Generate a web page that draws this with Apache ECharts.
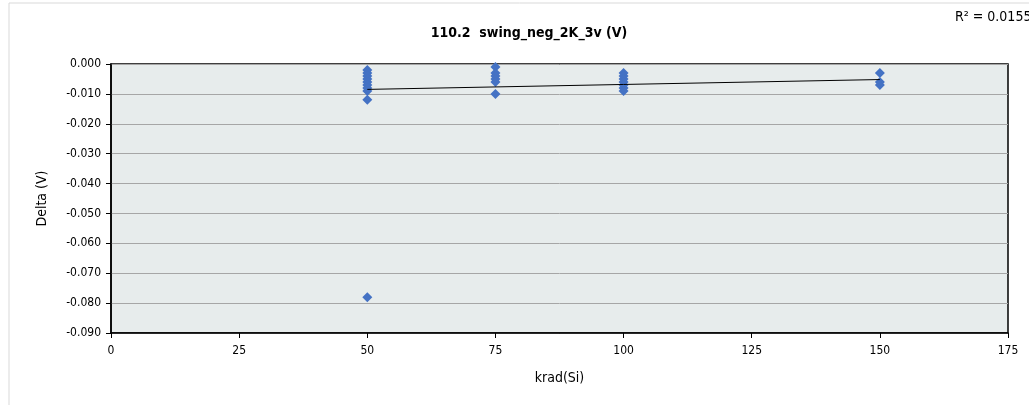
<!DOCTYPE html>
<html><head><meta charset="utf-8">
<script src="https://cdn.jsdelivr.net/npm/echarts@6/dist/echarts.min.js"></script>
<style>html,body{margin:0;padding:0;background:#fff}#c{width:1029px;height:405px}</style>
</head><body><div id="c"></div>
<script>
const titleText = '110.2  swing_neg_2K_3v (V)';
const r2Text = 'R² = 0.0155';
const xName = 'krad(Si)';
const yName = 'Delta (V)';
const dose50 = [-0.002, -0.003, -0.004, -0.005, -0.006, -0.007, -0.008, -0.009, -0.012, -0.078];
const dose75 = [-0.001, -0.003, -0.004, -0.005, -0.006, -0.010];
const dose100 = [-0.003, -0.004, -0.005, -0.006, -0.007, -0.008, -0.009];
const dose150 = [-0.003, -0.006, -0.007];
const doses = [50, 75, 100, 150];
const trendX = [50, 150];
const trendY = [-0.0085, -0.0052];

const groups = [dose50, dose75, dose100, dose150];
const pts = [];
groups.forEach((g, i) => g.forEach(v => pts.push([doses[i], v])));

const chart = echarts.init(document.getElementById('c'));
const font = '"Liberation Sans Narrow", "DejaVu Sans Condensed", "Liberation Sans", sans-serif';
chart.setOption({
  animation: false,
  textStyle: { fontFamily: font },
  title: { text: titleText, left: 524, top: 21, textAlign: 'center',
    textStyle: { fontSize: 14, fontWeight: 'bold', color: '#000', fontFamily: font } },
  graphic: [
    { type: 'rect', shape: { x: 9, y: 3, width: 1200, height: 600 }, style: { fill: 'none', stroke: '#D9D9D9', lineWidth: 1 }, z: -1 },
    { type: 'text', left: 955, top: 10, style: { text: r2Text, fontSize: 14, fill: '#000', fontFamily: font } }
  ],
  grid: { left: 111, right: 21, top: 64, bottom: 72, show: true, backgroundColor: '#E7ECEC', borderColor: '#000', borderWidth: 1.5 },
  xAxis: {
    type: 'value', min: 0, max: 175, interval: 25,
    name: xName, nameLocation: 'middle', nameGap: 38,
    nameTextStyle: { fontSize: 14, color: '#000', fontFamily: font },
    axisLine: { show: true, onZero: false, lineStyle: { color: '#000', width: 1.5 } },
    axisTick: { show: true, length: 5, lineStyle: { color: '#000' } },
    axisLabel: { fontSize: 12, color: '#000', margin: 12, fontFamily: font },
    splitLine: { show: false }
  },
  yAxis: {
    type: 'value', min: -0.09, max: 0, interval: 0.01,
    name: yName, nameLocation: 'middle', nameGap: 62, nameRotate: 90,
    nameTextStyle: { fontSize: 14, color: '#000', fontFamily: font },
    axisLine: { show: true, onZero: false, lineStyle: { color: '#000', width: 1.5 } },
    axisTick: { show: true, length: 5, lineStyle: { color: '#000' } },
    axisLabel: { fontSize: 12, color: '#000', margin: 10, fontFamily: font,
      formatter: v => (Math.abs(v) < 1e-9 ? 0 : v).toFixed(3) },
    splitLine: { show: true, lineStyle: { color: '#A6A6A6', width: 1 } }
  },
  series: [
    { type: 'scatter', data: pts, symbol: 'diamond', symbolSize: 10,
      itemStyle: { color: '#4472C4', opacity: 1 }, z: 3 },
    { type: 'line', data: trendX.map((x, i) => [x, trendY[i]]), symbol: 'none',
      lineStyle: { color: '#000', width: 1 }, z: 4 }
  ]
});
</script></body></html>
